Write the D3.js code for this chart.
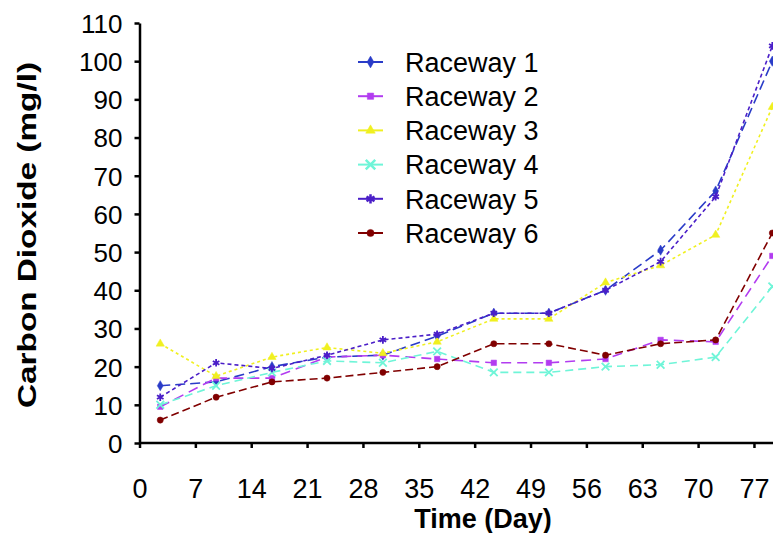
<!DOCTYPE html>
<html>
<head>
<meta charset="utf-8">
<script src="https://cdn.jsdelivr.net/npm/d3@7"></script>
<style>
  body { margin: 0; background: #fff; }
  svg { display: block; font-family: Arial, "Liberation Sans", sans-serif; }
  .axis path, .axis line { stroke: #000; stroke-width: 2.5px; }
  .axis text { font-size: 26px; fill: #000; font-family: Arial, "Liberation Sans", sans-serif; }
</style>
</head>
<body>
<div id="chart"></div>
<script>
// days the samples were taken
var days = [2.6, 9.6, 16.6, 23.5, 30.5, 37.3, 44.4, 51.3, 58.4, 65.3, 72.2, 79.3];

var raceway1 = [15, 16, 20, 22.5, 23, 28, 34, 34, 40, 50.5, 66, 100];
var raceway2 = [9.5, 17, 17, 22.5, 23, 22, 21, 21, 22, 27, 26.5, 49];
var raceway3 = [26, 17.5, 22.5, 25, 23.5, 26.5, 32.5, 32.5, 42, 46.5, 54.5, 88];
var raceway4 = [10, 15, 18.5, 21.5, 21, 24, 18.5, 18.5, 20, 20.5, 22.5, 41];
var raceway5 = [12, 21, 19.5, 23, 27, 28.5, 34, 34, 40, 47.5, 64.5, 104];
var raceway6 = [6, 12, 16, 17, 18.5, 20, 26, 26, 23, 26, 27, 55];

var names = ["Raceway 1", "Raceway 2", "Raceway 3", "Raceway 4", "Raceway 5", "Raceway 6"];
var xTicks = [0, 7, 14, 21, 28, 35, 42, 49, 56, 63, 70, 77];
var yTicks = [0, 10, 20, 30, 40, 50, 60, 70, 80, 90, 100, 110];

var series = [raceway1, raceway2, raceway3, raceway4, raceway5, raceway6];
var colors = ["#2a3cc8", "#b23cf0", "#f0f020", "#6ff5d8", "#4a1ec8", "#800000"];
var dashes = ["10,5", "10,6", "3,3", "8,5", "4,3", "8,4"];
var symbols = [d3.symbolDiamond, d3.symbolSquare, d3.symbolTriangle, d3.symbolX, d3.symbolAsterisk, d3.symbolCircle];
var filled = [true, true, true, false, false, true];

var width = 773, height = 533;

var svg = d3.select("#chart")
            .append("svg")
            .attr("width", width)
            .attr("height", height)

var x_scale = d3.scaleLinear().domain([0, 84]).range([139.5, 139.5 + 7.98 * 84]);
var y_scale = d3.scaleLinear().domain([0, 110]).range([443, 23]);

var x_axis = d3.axisBottom(x_scale).tickValues(xTicks).tickSize(5).tickSizeOuter(0).tickPadding(12);
var y_axis = d3.axisLeft(y_scale).tickValues(yTicks).tickSize(5).tickSizeOuter(0).tickPadding(12);

svg.append("g")
   .attr("class", "axis x-axis")
   .attr("transform", "translate(0,443)")
   .call(x_axis)

svg.select(".x-axis path").attr("d", "M139.5,0H773")

d3.select(".x-axis")
  .selectAll("text")
  .attr("dy", "1.42em")
  .style("font-size", "27px")

svg.append("g")
   .attr("class", "axis y-axis")
   .attr("transform", "translate(139.5,0)")
   .call(y_axis)

d3.select(".y-axis").selectAll("text").attr("dy", "0.36em")

// axis titles
svg.append("text")
   .attr("x", 483)
   .attr("y", 528)
   .attr("text-anchor", "middle")
   .style("font-size", "27px")
   .style("font-weight", "bold")
   .text("Time (Day)")

svg.append("text")
   .attr("transform", "translate(36,235),rotate(-90)")
   .attr("text-anchor", "middle")
   .attr("textLength", 346)
   .attr("lengthAdjust", "spacingAndGlyphs")
   .style("font-size", "25px")
   .style("font-weight", "bold")
   .text("Carbon Dioxide (mg/l)")

var line = d3.line()
             .x(function(d){return x_scale(d.day)})
             .y(function(d){return y_scale(d.v)})

var plot = svg.append("g")

series.forEach(function(vals, i){
  var pts = vals.map(function(v, j){return {day: days[j], v: v}})

  plot.append("path")
      .datum(pts)
      .attr("fill", "none")
      .attr("stroke", colors[i])
      .attr("stroke-width", 1.6)
      .attr("stroke-dasharray", dashes[i])
      .attr("d", line)

  plot.selectAll(".m" + i)
      .data(pts)
      .enter()
      .append("path")
      .attr("class", "m" + i)
      .attr("transform", function(d){return "translate(" + x_scale(d.day) + "," + y_scale(d.v) + ")"})
      .attr("d", d3.symbol().type(symbols[i]).size(filled[i] ? 30 : 40))
      .attr("fill", filled[i] ? colors[i] : "none")
      .attr("stroke", colors[i])
      .attr("stroke-width", filled[i] ? 0.5 : 1.8)
})

// legend
var legend = svg.append("g")

names.forEach(function(n, i){
  var y = 62 + i * 34.2
  legend.append("line")
        .attr("x1", 358).attr("x2", 383)
        .attr("y1", y).attr("y2", y)
        .attr("stroke", colors[i])
        .attr("stroke-width", 2)
  legend.append("path")
        .attr("transform", "translate(370.5," + y + ")")
        .attr("d", d3.symbol().type(symbols[i]).size(filled[i] ? 40 : 60))
        .attr("fill", filled[i] ? colors[i] : "none")
        .attr("stroke", colors[i])
        .attr("stroke-width", filled[i] ? 0.5 : 2.5)
  legend.append("text")
        .attr("x", 405)
        .attr("y", y)
        .attr("dy", "0.36em")
        .style("font-size", "27px")
        .text(n)
})
</script>
</body>
</html>
